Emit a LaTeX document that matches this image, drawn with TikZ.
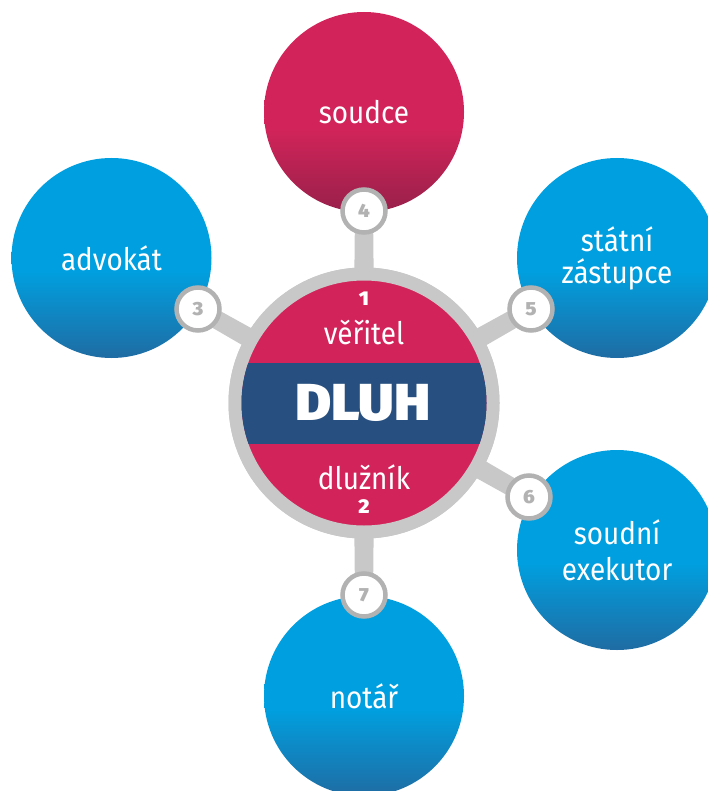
\documentclass[tikz,border=0pt]{standalone}
\usepackage{fontspec}
\setmainfont[FakeStretch=0.9]{Fira Sans}
\newfontfamily\heavyfont[FakeStretch=1.06]{Fira Sans Black}
\usetikzlibrary{calc}
\definecolor{ringgray}{HTML}{C8C8C8}
\definecolor{numgray}{HTML}{B2B2B2}
\definecolor{hubred}{HTML}{D2245A}
\definecolor{hubblue}{HTML}{274F7F}
\definecolor{c1}{HTML}{1F6CA3}
\definecolor{c2}{HTML}{00A0E0}
\definecolor{d1}{HTML}{98204A}
\definecolor{d2}{HTML}{D2245A}
\pgfdeclareverticalshading{blueball}{100bp}{color(0bp)=(c1);color(25bp)=(c1);color(47bp)=(c2);color(100bp)=(c2)}
\pgfdeclareverticalshading{redball}{100bp}{color(0bp)=(d1);color(25bp)=(d1);color(46bp)=(d2);color(100bp)=(d2)}
\tikzset{
  ball/.style={circle,minimum size=200pt,inner sep=0pt,align=center,text=white,font=\fontsize{31}{36}\selectfont},
  blueb/.style={ball,shading=blueball},
  redb/.style={ball,shading=redball},
  numring/.style={circle,minimum size=43pt,inner sep=0pt,fill=white,draw=numgray,line width=4.5pt,text=numgray,font=\fontsize{19}{19}\selectfont\heavyfont},
  hubring/.style={circle,minimum size=258pt,inner sep=0pt,fill=hubred,draw=ringgray,line width=13pt},
  hubtext/.style={text=white,inner sep=0pt,font=\fontsize{31}{30}\selectfont},
  hubnum/.style={text=white,inner sep=0pt,font=\fontsize{20}{20}\selectfont\heavyfont},
}
\begin{document}
\begin{tikzpicture}[x=1pt,y=-1pt]
\useasboundingbox (0,0) rectangle (708,791);
\node[redb] (soudce) at (364,112) {soudce};
\node[blueb] (advokat) at (111.5,258) {advokát};
\node[blueb] (statni) at (617,258) {státní\\[-4pt]zástupce};
\node[blueb] (exekutor) at (617,550) {soudní\\exekutor};
\node[blueb] (notar) at (364,696) {notář};
\node[hubring] (hub) at (364,403) {};
\coordinate (n3c) at (198,309);
\coordinate (n4c) at (364,211);
\coordinate (n5c) at (531,309);
\coordinate (n6c) at (529,497);
\coordinate (n7c) at (364,595);
\foreach \t in {n3c,n4c,n5c,n6c,n7c}{
  \fill[ringgray] ($(hub.center)!11pt!90:(\t)$) -- ($(\t)!9pt!-90:(hub.center)$) -- ($(\t)!9pt!90:(hub.center)$) -- ($(hub.center)!11pt!-90:(\t)$) -- cycle;
}
\node[hubring] at (hub.center) {};
\begin{scope}
  \clip (hub.center) circle (122.5pt);
  \fill[hubblue] (230,363) rectangle (500,444);
\end{scope}
\node[text=white,inner sep=0pt,font=\fontsize{52}{52}\selectfont\heavyfont] (dluh) at (363,403) {DLUH};
\node[hubnum] (one) at (364,299) {1};
\node[hubtext] (ver) at (364,333) {věřitel};
\node[hubtext] (dluz) at (364,477) {dlužník};
\node[hubnum] (two) at (364,507) {2};
\node[numring] (n3) at (n3c) {3};
\node[numring] (n4) at (n4c) {4};
\node[numring] (n5) at (n5c) {5};
\node[numring] (n6) at (n6c) {6};
\node[numring] (n7) at (n7c) {7};
\end{tikzpicture}
\end{document}
